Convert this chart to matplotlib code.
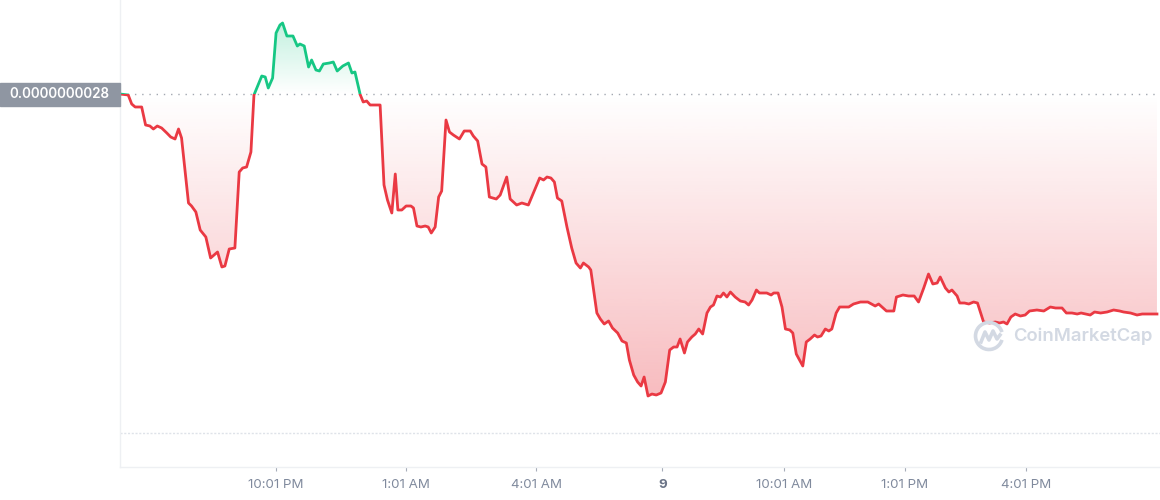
import numpy as np
import matplotlib.pyplot as plt
from matplotlib.patches import Rectangle, Arc
from matplotlib.path import Path
from matplotlib.lines import Line2D

plt.rcParams['font.family'] = ['Inter', 'DejaVu Sans']

# Precio (x1e-9) frente a horas desde el inicio de la ventana de 24 h
hours = [0.00, 0.19, 0.27, 0.35, 0.50, 0.59, 0.69, 0.77, 0.86, 0.96,
         1.08, 1.17, 1.27, 1.35, 1.42, 1.58, 1.65, 1.75, 1.85, 1.98,
         2.09, 2.25, 2.35, 2.42, 2.52, 2.65, 2.75, 2.83, 2.92, 3.02,
         3.09, 3.27, 3.35, 3.42, 3.52, 3.60, 3.69, 3.75, 3.85, 3.99,
         4.09, 4.15, 4.25, 4.35, 4.42, 4.52, 4.60, 4.69, 4.83, 4.92,
         5.01, 5.14, 5.27, 5.35, 5.42, 5.54, 5.61, 5.69, 5.77, 6.00,
         6.09, 6.17, 6.27, 6.35, 6.41, 6.50, 6.60, 6.71, 6.77, 6.85,
         6.94, 7.04, 7.11, 7.18, 7.27, 7.35, 7.42, 7.52, 7.60, 7.69,
         7.83, 7.94, 8.08, 8.15, 8.25, 8.35, 8.44, 8.52, 8.68, 8.77,
         8.92, 9.00, 9.15, 9.27, 9.42, 9.68, 9.77, 9.85, 9.94, 10.02,
         10.09, 10.19, 10.31, 10.42, 10.52, 10.62, 10.69, 10.81, 10.86, 11.00,
         11.08, 11.17, 11.27, 11.36, 11.48, 11.58, 11.68, 11.75, 11.85, 11.94,
         12.02, 12.09, 12.18, 12.27, 12.37, 12.48, 12.58, 12.68, 12.77, 12.85,
         12.92, 13.02, 13.09, 13.19, 13.27, 13.35, 13.44, 13.54, 13.62, 13.69,
         13.77, 13.85, 13.92, 14.00, 14.08, 14.19, 14.31, 14.42, 14.50, 14.58,
         14.68, 14.75, 14.92, 15.02, 15.08, 15.18, 15.27, 15.35, 15.45, 15.52,
         15.60, 15.65, 15.75, 15.83, 15.92, 16.02, 16.09, 16.17, 16.27, 16.35,
         16.42, 16.52, 16.60, 16.69, 16.81, 16.92, 17.08, 17.25, 17.42, 17.50,
         17.68, 17.85, 17.91, 18.06, 18.19, 18.32, 18.42, 18.54, 18.65, 18.75,
         18.85, 18.92, 19.04, 19.12, 19.19, 19.31, 19.37, 19.48, 19.58, 19.69,
         19.78, 19.92, 20.06, 20.19, 20.29, 20.38, 20.46, 20.55, 20.65, 20.77,
         20.88, 20.98, 21.15, 21.31, 21.46, 21.58, 21.73, 21.83, 21.96, 22.08,
         22.17, 22.27, 22.38, 22.48, 22.62, 22.77, 22.92, 23.06, 23.15, 23.31,
         23.46, 23.58, 23.73, 23.92]
price = [2.800, 2.799, 2.790, 2.787, 2.787, 2.769, 2.768, 2.765, 2.768, 2.766,
         2.761, 2.757, 2.755, 2.765, 2.756, 2.691, 2.688, 2.682, 2.664, 2.657,
         2.636, 2.642, 2.627, 2.628, 2.645, 2.646, 2.722, 2.726, 2.727, 2.742,
         2.799, 2.818, 2.817, 2.806, 2.816, 2.861, 2.869, 2.871, 2.858, 2.858,
         2.848, 2.850, 2.848, 2.827, 2.834, 2.824, 2.823, 2.830, 2.831, 2.832,
         2.823, 2.828, 2.831, 2.821, 2.822, 2.7995, 2.792, 2.793, 2.789, 2.789,
         2.709, 2.694, 2.681, 2.720, 2.684, 2.684, 2.688, 2.688, 2.686, 2.668,
         2.667, 2.668, 2.667, 2.661, 2.667, 2.697, 2.703, 2.774, 2.762, 2.759,
         2.755, 2.763, 2.763, 2.758, 2.753, 2.730, 2.727, 2.697, 2.695, 2.699,
         2.717, 2.695, 2.689, 2.691, 2.689, 2.716, 2.714, 2.717, 2.716, 2.712,
         2.696, 2.693, 2.667, 2.646, 2.631, 2.626, 2.631, 2.627, 2.624, 2.581,
         2.575, 2.570, 2.573, 2.566, 2.561, 2.553, 2.551, 2.534, 2.519, 2.512,
         2.508, 2.517, 2.498, 2.500, 2.499, 2.501, 2.512, 2.544, 2.547, 2.547,
         2.555, 2.541, 2.552, 2.557, 2.560, 2.565, 2.560, 2.581, 2.587, 2.589,
         2.598, 2.597, 2.601, 2.597, 2.602, 2.597, 2.593, 2.592, 2.589, 2.594,
         2.604, 2.601, 2.601, 2.599, 2.601, 2.601, 2.587, 2.565, 2.564, 2.561,
         2.540, 2.536, 2.528, 2.552, 2.555, 2.559, 2.557, 2.558, 2.565, 2.563,
         2.565, 2.581, 2.587, 2.587, 2.587, 2.590, 2.592, 2.592, 2.588, 2.590,
         2.583, 2.583, 2.597, 2.599, 2.598, 2.598, 2.592, 2.606, 2.620, 2.610,
         2.611, 2.617, 2.606, 2.602, 2.604, 2.598, 2.591, 2.591, 2.590, 2.592,
         2.591, 2.572, 2.571, 2.572, 2.571, 2.572, 2.570, 2.577, 2.580, 2.578,
         2.579, 2.583, 2.584, 2.583, 2.587, 2.586, 2.586, 2.581, 2.581, 2.580,
         2.581, 2.580, 2.579, 2.582, 2.581, 2.582, 2.584, 2.583, 2.582, 2.581,
         2.579, 2.580, 2.580, 2.580]

open_price = 2.8      # precio de apertura (x1e-9)
low_grid = 2.461      # segunda línea punteada
y_range = (2.427, 2.894)
tick_pos = [3.60, 6.60, 9.60, 12.51, 15.31, 18.10, 20.91]
tick_labels = ['10:01 PM', '1:01 AM', '4:01 AM', '9', '10:01 AM', '1:01 PM', '4:01 PM']

green = '#16C784'
red = '#EA3943'

x = np.array(hours)
y = np.array(price)
x0, x1 = x[0], x[-1]

fig = plt.figure(figsize=(11.6, 5.0), dpi=100)
ax = fig.add_axes([120 / 1160, 33 / 500, 1040 / 1160, 467 / 500])


def gradient_fill(upper, color, alpha_max):
    # polígono entre la línea y el precio de apertura
    if upper:
        yy = np.maximum(y, open_price)
        extreme = y.max()
    else:
        yy = np.minimum(y, open_price)
        extreme = y.min()
    verts = list(zip(x, yy)) + [(x1, open_price), (x0, open_price)]
    path = Path(verts)
    n = 256
    rgba = np.zeros((n, 1, 4))
    rgba[..., :3] = plt.matplotlib.colors.to_rgb(color)
    a = np.linspace(0, alpha_max, n)
    if upper:
        rgba[:, 0, 3] = a
        ext = [x0, x1, open_price, extreme]
    else:
        rgba[:, 0, 3] = a[::-1]
        ext = [x0, x1, extreme, open_price]
    im = ax.imshow(rgba, extent=ext, origin='lower', aspect='auto',
                   interpolation='bilinear', zorder=1)
    im.set_clip_path(path, ax.transData)


gradient_fill(True, green, 0.26)
gradient_fill(False, red, 0.34)
ax.set_xlim(x0, x1 + 0.07)
ax.set_ylim(*y_range)

# líneas punteadas
ax.axhline(open_price, color='#a3a8b1', lw=1.0, linestyle=(0, (1, 4.2)), zorder=2)
ax.axhline(low_grid, color='#dfe3e9', lw=1.0, linestyle=(0, (1.5, 1.2)), zorder=2)

# línea de precio: verde por encima de la apertura, roja por debajo
lg, = ax.plot(x, y, color=green, lw=2.0, zorder=4, solid_joinstyle='round')
lg.set_clip_path(Rectangle((x0 - 1, open_price), x1 - x0 + 2, 1, transform=ax.transData))
lr, = ax.plot(x, y, color=red, lw=2.0, zorder=4, solid_joinstyle='round')
lr.set_clip_path(Rectangle((x0 - 1, open_price - 1), x1 - x0 + 2, 1, transform=ax.transData))

# ejes
for s in ['top', 'right']:
    ax.spines[s].set_visible(False)
for s in ['left', 'bottom']:
    ax.spines[s].set_color('#eef0f3')
    ax.spines[s].set_linewidth(1.0)
ax.set_yticks([])
ax.set_xticks(tick_pos)
ax.set_xticklabels(tick_labels)
ax.tick_params(axis='x', length=3, width=0.8, color='#a6adb9',
               labelcolor='#808a9d', labelsize=9.6, pad=6)
for lab in ax.get_xticklabels():
    if lab.get_text() == '9':
        lab.set_fontweight('bold')
        lab.set_color('#6b7487')

# etiqueta del precio de apertura
fig.canvas.draw()
_, py = ax.transData.transform((x0, open_price))
fy = py / fig.bbox.height
box_h = 23 / 500
fig.add_artist(Rectangle((0, fy - box_h / 2), 120 / 1160, box_h,
                         transform=fig.transFigure, color='#8f96a2', zorder=5))
fig.text(59 / 1160, fy, f'{open_price * 1e-9:.10f}', ha='center', va='center',
         color='white', fontsize=9.7, fontweight='semibold', zorder=6)

# marca de agua
wm = '#d3d9e3'
cx, cy = 989 / 1160, 1 - 336 / 500
fig.add_artist(Arc((cx, cy), 27 / 1160, 27 / 500, theta1=35, theta2=325,
                   transform=fig.transFigure, color=wm, lw=2.6, zorder=0.5))
mx = np.array([-8, -4, 0, 4, 8, 11]) / 1160
my = np.array([-6, 4, -4, 5, -3, 1]) / 500
fig.add_artist(Line2D(cx + mx, cy + my, transform=fig.transFigure,
                      color=wm, lw=2.6, solid_joinstyle='round', zorder=0.5))
fig.text(1013 / 1160, cy, 'CoinMarketCap', ha='left', va='center', color=wm,
         fontsize=13.3, fontweight='semibold', zorder=0.5)

fig.savefig('out.png', dpi=100)
